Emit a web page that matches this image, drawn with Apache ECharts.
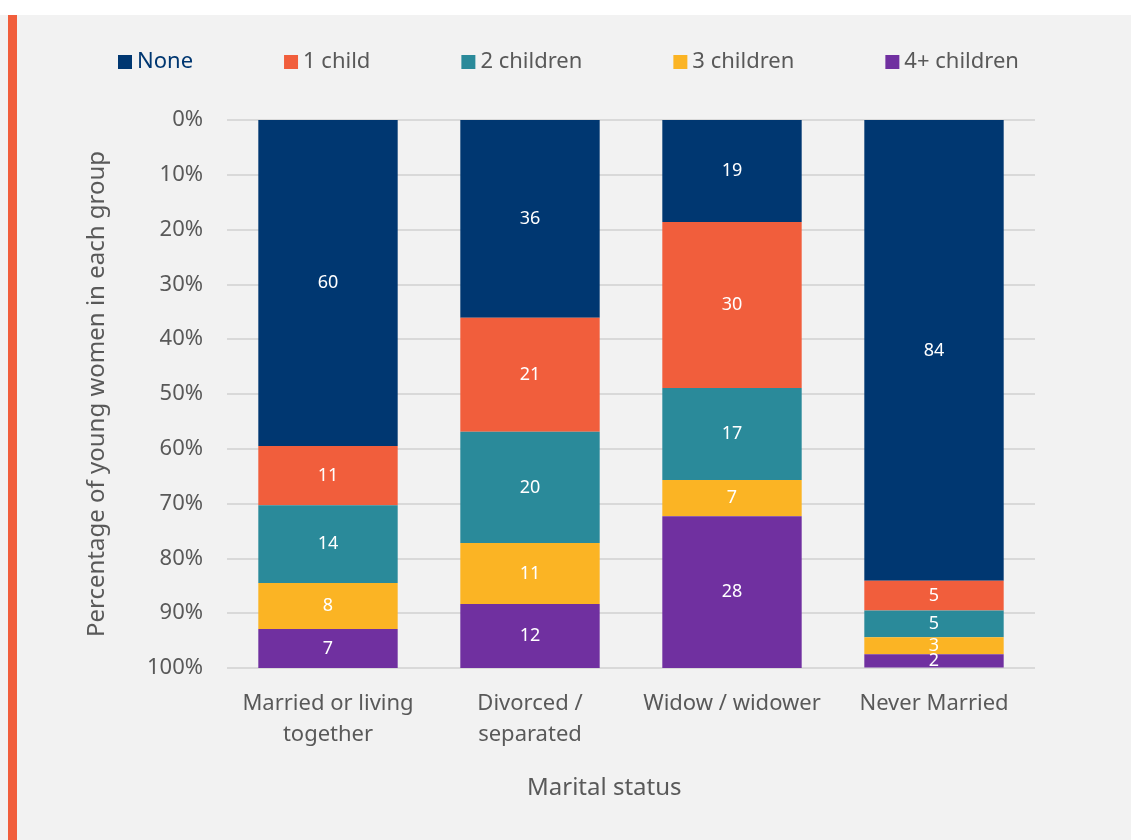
<!DOCTYPE html>
<html><head><meta charset="utf-8">
<style>html,body{margin:0;padding:0;background:#fff;}#c{width:1131px;height:840px;}</style>
<script src="https://cdn.jsdelivr.net/npm/echarts@6/dist/echarts.min.js"></script>
</head><body><div id="c"></div>
<script>
const categories = ['Married or living\ntogether', 'Divorced /\nseparated', 'Widow / widower', 'Never Married'];
const seriesNames = ['None', '1 child', '2 children', '3 children', '4+ children'];
const none = [59.5, 36.1, 18.6, 84.1];
const oneChild = [10.8, 20.8, 30.3, 5.4];
const twoChildren = [14.2, 20.3, 16.8, 4.9];
const threeChildren = [8.4, 11.1, 6.6, 3.1];
const fourPlus = [7.1, 11.7, 27.7, 2.4];
const colors = ['#003771', '#f15e3c', '#2a8a9a', '#fbb424', '#7030a0'];
const font = 'Noto Sans';
const gray = '#595959';

const values = [none, oneChild, twoChildren, threeChildren, fourPlus];
const chart = echarts.init(document.getElementById('c'));
chart.setOption({
  backgroundColor: '#f2f2f2',
  animation: false,
  textStyle: {fontFamily: font},
  graphic: [
    {type: 'rect', shape: {x: 0, y: 0, width: 1131, height: 15}, style: {fill: '#ffffff'}, silent: true},
    {type: 'rect', shape: {x: 8, y: 15, width: 9, height: 825}, style: {fill: '#f15e3c'}, silent: true}
  ],
  title: {
    text: 'Marital status', left: 522, top: 771,
    textStyle: {fontFamily: font, fontSize: 24, fontWeight: 'normal', color: gray}
  },
  legend: {
    left: 118, top: 51, padding: 0, itemWidth: 14, itemHeight: 14, itemGap: 91,
    icon: 'rect',
    textStyle: {fontFamily: font, fontSize: 22, color: gray},
    data: seriesNames.map((n, i) => i === 0 ? {name: n, textStyle: {color: '#003771'}} : {name: n})
  },
  grid: {left: 227, right: 96, top: 120, bottom: 172},
  xAxis: {
    type: 'category', data: categories,
    axisLine: {show: false}, axisTick: {show: false},
    axisLabel: {fontFamily: font, fontSize: 22, color: gray, margin: 20, lineHeight: 31, interval: 0}
  },
  yAxis: {
    type: 'value', inverse: true, min: 0, max: 100, interval: 10,
    name: 'Percentage of young women in each group', nameLocation: 'middle', nameGap: 118,
    nameTextStyle: {fontFamily: font, fontSize: 24, color: gray},
    axisLabel: {formatter: '{value}%', fontFamily: font, fontSize: 22, color: gray, margin: 24},
    splitLine: {lineStyle: {color: '#d9d9d9', width: 2}},
    axisLine: {show: false}, axisTick: {show: false}
  },
  series: seriesNames.map((n, i) => ({
    name: n, type: 'bar', stack: 'total', data: values[i], barCategoryGap: '31%',
    itemStyle: {color: colors[i]},
    label: {show: true, position: 'inside', color: '#ffffff', fontFamily: font, fontSize: 18,
      formatter: p => Math.round(p.value)}
  }))
});
</script></body></html>
